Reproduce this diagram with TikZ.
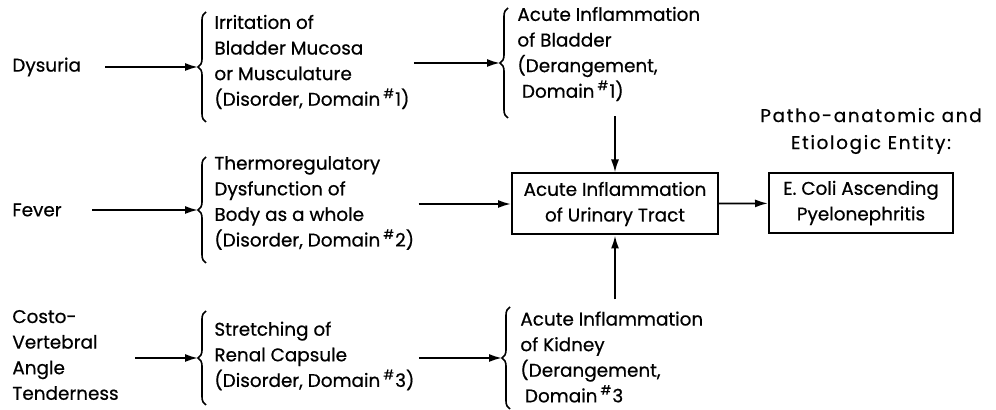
\documentclass[tikz,border=0pt]{standalone}
\usepackage{fontspec}
\setmainfont{Poppins}[FakeBold=0.6]
\newfontfamily\widefont{Poppins}[FakeBold=0.6, LetterSpace=9]
\usepackage{tikz}
\usetikzlibrary{decorations.pathreplacing,arrows.meta}
\tikzstyle{Label}=[inner sep=0pt, align=left, anchor=west]
\tikzstyle{Box}=[rectangle, draw=black, line width=1pt, align=center, inner sep=2pt]
\tikzstyle{Curly}=[decorate, decoration={brace, amplitude=4pt}, line width=0.8pt]
\tikzstyle{Arr}=[-{Latex[length=6.5pt,width=4pt]}, line width=0.9pt]
\newcommand{\dom}[1]{Domain\,\textsuperscript{\#}#1}

\begin{document}
\begin{tikzpicture}[x=0.5pt, y=-0.5pt, font=\fontsize{9.2}{12.8}\selectfont]
    \useasboundingbox (0,0) rectangle (996,410);
    \path
    (12,67) node[Label] (dys) {Dysuria}
    (214,62) node[Label] (irr) {Irritation of\\Bladder Mucosa\\or Musculature\\(Disorder, \dom{1})}
    (517,54) node[Label] (acb) {Acute Inflammation\\of Bladder\\(Derangement,\\\hspace{0.25em}\dom{1})}
    (12,210) node[Label] (fev) {Fever}
    (214,203) node[Label] (thr) {Thermoregulatory\\Dysfunction of\\Body as a whole\\(Disorder, \dom{2})}
    (615,204) node[Box, minimum width=103pt, minimum height=30.5pt] (aiu) {Acute Inflammation\\of Urinary Tract}
    (861,203) node[Box, minimum width=92pt, minimum height=30pt] (eco) {E. Coli Ascending\\Pyelonephritis}
    (871,131) node[align=center, inner sep=0pt, font=\widefont\fontsize{9.2}{13.5}\selectfont] (ent) {Patho-anatomic and\\Etiologic Entity:}
    (12,355) node[Label] (cva) {Costo-\\Vertebral\\Angle\\Tenderness}
    (214,356) node[Label] (str) {Stretching of\\Renal Capsule\\(Disorder, \dom{3})}
    (520,357) node[Label] (ack) {Acute Inflammation\\of Kidney\\(Derangement,\\\hspace{0.25em}\dom{3}};

    % braces and their tips
    \draw[Curly] (206,122) -- (206,12);
    \draw[Curly] (508,118) -- (508,8);
    \draw[Curly] (206,263) -- (206,157);
    \draw[Curly] (206,405) -- (206,311);
    \draw[Curly] (510,409) -- (510,307);
    \coordinate (t1) at (198,67);
    \coordinate (t2) at (500,63);
    \coordinate (t3) at (198,210);
    \coordinate (t4) at (198,358);
    \coordinate (t5) at (502,358);

    \draw[Arr] ([xshift=12pt]dys.east |- t1) -- (t1);
    \draw[Arr] ([xshift=2pt]irr.east |- t2) -- (t2);
    \draw[Arr] ([xshift=15pt]fev.east |- t3) -- (t3);
    \draw[Arr] ([xshift=2pt]thr.east |- aiu.west) -- (aiu.west);
    \draw[Arr] ([xshift=8pt]cva.east |- t4) -- (t4);
    \draw[Arr] ([xshift=2pt]str.east |- t5) -- (t5);
    \draw[Arr] ([yshift=28pt]aiu.north) -- (aiu.north);
    \draw[Arr] ([yshift=-32pt]aiu.south) -- (aiu.south);
    \draw[Arr] (aiu) -- (eco);
\end{tikzpicture}
\end{document}
